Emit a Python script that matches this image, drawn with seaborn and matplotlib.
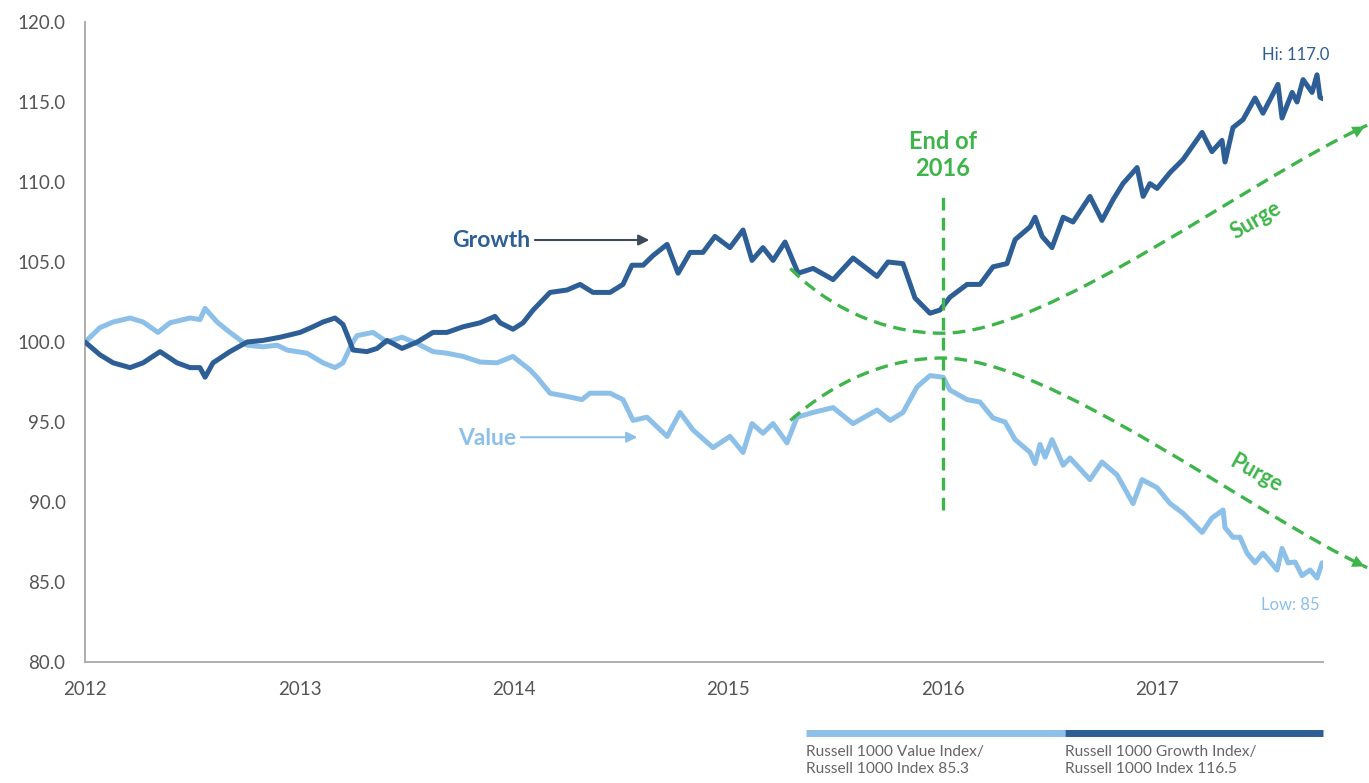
import pandas as pd
import seaborn as sns
import matplotlib.pyplot as plt
from matplotlib.path import Path
from matplotlib.patches import PathPatch
from matplotlib.lines import Line2D

# Growth / Russell 1000 ratio
growth_years = [
    2012.000, 2012.070, 2012.131, 2012.210, 2012.271, 2012.350, 2012.429, 2012.490,
    2012.536, 2012.560, 2012.597, 2012.676, 2012.756, 2012.830, 2012.910, 2013.003,
    2013.063, 2013.110, 2013.166, 2013.203, 2013.227, 2013.250, 2013.315, 2013.362,
    2013.409, 2013.479, 2013.549, 2013.623, 2013.688, 2013.763, 2013.842, 2013.912,
    2013.936, 2013.996, 2014.043, 2014.090, 2014.169, 2014.248, 2014.309, 2014.369,
    2014.449, 2014.509, 2014.551, 2014.603, 2014.649, 2014.715, 2014.766, 2014.822,
    2014.882, 2014.938, 2015.008, 2015.069, 2015.111, 2015.162, 2015.209, 2015.265,
    2015.326, 2015.396, 2015.489, 2015.582, 2015.694, 2015.745, 2015.815, 2015.871,
    2015.941, 2015.988, 2016.034, 2016.114, 2016.174, 2016.235, 2016.300, 2016.338,
    2016.408, 2016.431, 2016.464, 2016.510, 2016.562, 2016.608, 2016.687, 2016.743,
    2016.795, 2016.841, 2016.907, 2016.935, 2016.967, 2017.000, 2017.061, 2017.121,
    2017.210, 2017.256, 2017.303, 2017.317, 2017.354, 2017.401, 2017.457, 2017.494,
    2017.564, 2017.583, 2017.630, 2017.653, 2017.681, 2017.723, 2017.746, 2017.760,
    2017.774,
]
growth_ratio = [
    100.0, 99.2, 98.7, 98.4, 98.7, 99.4, 98.7, 98.4,
    98.4, 97.8, 98.7, 99.4, 100.0, 100.1, 100.3, 100.6,
    100.95, 101.25, 101.5, 101.1, 100.3, 99.5, 99.4, 99.6,
    100.1, 99.6, 100.0, 100.6, 100.6, 100.95, 101.2, 101.6,
    101.2, 100.8, 101.2, 102.0, 103.1, 103.25, 103.6, 103.1,
    103.1, 103.6, 104.8, 104.8, 105.4, 106.1, 104.3, 105.6,
    105.6, 106.6, 105.9, 107.0, 105.1, 105.9, 105.1, 106.25,
    104.3, 104.6, 103.9, 105.25, 104.1, 105.0, 104.9, 102.75,
    101.8, 102.0, 102.8, 103.6, 103.6, 104.7, 104.9, 106.4,
    107.2, 107.8, 106.6, 105.9, 107.8, 107.5, 109.1, 107.6,
    108.9, 109.9, 110.9, 109.1, 109.9, 109.6, 110.6, 111.4,
    113.1, 111.9, 112.6, 111.25, 113.4, 113.9, 115.25, 114.3,
    116.1, 114.0, 115.6, 115.0, 116.4, 115.6, 116.7, 115.3,
    115.2,
]

# Value / Russell 1000 ratio
value_years = [
    2012.000, 2012.070, 2012.131, 2012.210, 2012.271, 2012.340, 2012.396, 2012.490,
    2012.536, 2012.560, 2012.616, 2012.676, 2012.756, 2012.830, 2012.896, 2012.942,
    2013.035, 2013.110, 2013.166, 2013.203, 2013.245, 2013.269, 2013.343, 2013.409,
    2013.479, 2013.549, 2013.623, 2013.688, 2013.763, 2013.842, 2013.922, 2013.996,
    2014.076, 2014.108, 2014.169, 2014.248, 2014.318, 2014.355, 2014.449, 2014.509,
    2014.556, 2014.621, 2014.715, 2014.775, 2014.836, 2014.929, 2015.008, 2015.069,
    2015.111, 2015.162, 2015.209, 2015.274, 2015.321, 2015.396, 2015.489, 2015.582,
    2015.694, 2015.755, 2015.815, 2015.881, 2015.941, 2016.002, 2016.034, 2016.114,
    2016.174, 2016.235, 2016.291, 2016.338, 2016.408, 2016.431, 2016.454, 2016.478,
    2016.510, 2016.562, 2016.594, 2016.687, 2016.743, 2016.813, 2016.888, 2016.930,
    2017.000, 2017.061, 2017.121, 2017.210, 2017.256, 2017.308, 2017.317, 2017.354,
    2017.387, 2017.420, 2017.457, 2017.494, 2017.560, 2017.583, 2017.611, 2017.644,
    2017.676, 2017.714, 2017.746, 2017.770,
]
value_ratio = [
    100.0, 100.9, 101.25, 101.5, 101.25, 100.6, 101.2, 101.5,
    101.4, 102.1, 101.25, 100.6, 99.8, 99.7, 99.8, 99.5,
    99.3, 98.7, 98.4, 98.7, 99.9, 100.4, 100.6, 100.0,
    100.3, 99.9, 99.4, 99.3, 99.1, 98.75, 98.7, 99.1,
    98.25, 97.8, 96.8, 96.6, 96.4, 96.8, 96.8, 96.4,
    95.1, 95.3, 94.1, 95.6, 94.5, 93.4, 94.1, 93.1,
    94.9, 94.3, 94.9, 93.7, 95.3, 95.6, 95.9, 94.9,
    95.75, 95.1, 95.6, 97.2, 97.9, 97.8, 97.0, 96.4,
    96.25, 95.25, 95.0, 93.9, 93.1, 92.4, 93.6, 92.8,
    93.9, 92.3, 92.75, 91.4, 92.5, 91.7, 89.9, 91.4,
    90.9, 89.9, 89.3, 88.1, 89.0, 89.5, 88.4, 87.8,
    87.8, 86.8, 86.2, 86.8, 85.75, 87.1, 86.2, 86.25,
    85.4, 85.75, 85.25, 86.2,
]

year_ticks = [2012, 2013, 2014, 2015, 2016, 2017]
ratio_ticks = [80, 85, 90, 95, 100, 105, 110, 115, 120]

growth_color = "#2d5f96"
value_color = "#8cc0e8"
green = "#3db54a"
axis_gray = "#a8a8a8"
text_gray = "#555555"

sns.set_style("white")
plt.rcParams["font.family"] = ["Lato", "DejaVu Sans"]

df_growth = pd.DataFrame({"year": growth_years, "ratio": growth_ratio})
df_value = pd.DataFrame({"year": value_years, "ratio": value_ratio})

fig = plt.figure(figsize=(13.69, 7.83), dpi=100)
ax = fig.add_axes([0.0621, 0.1545, 0.9043, 0.8174])

sns.lineplot(data=df_value, x="year", y="ratio", ax=ax, color=value_color,
             linewidth=3.6, sort=False, zorder=3)
sns.lineplot(data=df_growth, x="year", y="ratio", ax=ax, color=growth_color,
             linewidth=3.6, sort=False, zorder=4)

ax.set_xlim(2012, 2017.774)
ax.set_ylim(80, 120)
ax.set_xticks(year_ticks)
ax.set_xticklabels([str(y) for y in year_ticks])
ax.set_yticks(ratio_ticks)
ax.set_yticklabels([f"{v:.1f}" for v in ratio_ticks])
ax.set_xlabel("")
ax.set_ylabel("")

sns.despine(ax=ax)
for side in ["left", "bottom"]:
    ax.spines[side].set_color(axis_gray)
    ax.spines[side].set_linewidth(1.3)
ax.tick_params(axis="both", colors=axis_gray, length=5, width=1.3,
               labelcolor=text_gray, labelsize=13.5)
ax.tick_params(axis="y", pad=9)
ax.tick_params(axis="x", pad=9)

# green scenario curves (annotation only)
upper = Path(
    [(2015.29, 104.6), (2015.45, 102.4), (2015.7, 100.55), (2016.0, 100.55),
     (2016.5, 100.55), (2017.42, 110.1), (2017.98, 113.55)],
    [Path.MOVETO, Path.CURVE4, Path.CURVE4, Path.CURVE4,
     Path.CURVE4, Path.CURVE4, Path.CURVE4],
)
lower = Path(
    [(2015.29, 95.1), (2015.5, 97.6), (2015.75, 99.0), (2016.0, 99.0),
     (2016.5, 99.0), (2017.45, 89.2), (2017.98, 85.9)],
    [Path.MOVETO, Path.CURVE4, Path.CURVE4, Path.CURVE4,
     Path.CURVE4, Path.CURVE4, Path.CURVE4],
)
for p in [upper, lower]:
    ax.add_patch(PathPatch(p, facecolor="none", edgecolor=green, lw=2.4,
                           linestyle=(0, (3.8, 2.2)), clip_on=False, zorder=5))

ax.annotate("", xy=(2017.98, 113.55), xytext=(2017.90, 112.98),
            arrowprops=dict(arrowstyle="-|>", color=green, lw=0,
                            mutation_scale=22), annotation_clip=False)
ax.annotate("", xy=(2017.98, 85.9), xytext=(2017.90, 86.4),
            arrowprops=dict(arrowstyle="-|>", color=green, lw=0,
                            mutation_scale=22), annotation_clip=False)

ax.plot([2016, 2016], [89.5, 109.5], color=green, lw=2.4,
        linestyle=(0, (3.8, 2.2)), zorder=5)
ax.text(2016, 111.7, "End of\n2016", color=green, fontsize=17,
        fontweight="bold", ha="center", va="center", linespacing=1.2)

ax.text(2017.46, 107.6, "Surge", color=green, fontsize=15.5, fontweight="bold",
        ha="center", va="center", rotation=30)
ax.text(2017.46, 91.8, "Purge", color=green, fontsize=15.5, fontweight="bold",
        ha="center", va="center", rotation=-29)

# series labels
ax.text(2014.076, 106.375, "Growth", color=growth_color, fontsize=16.5,
        fontweight="bold", ha="right", va="center")
ax.annotate("", xy=(2014.645, 106.375), xytext=(2014.085, 106.375),
            arrowprops=dict(arrowstyle="-|>", color="#3d4a5c", lw=1.5,
                            mutation_scale=16))
ax.text(2014.01, 94.0, "Value", color=value_color, fontsize=16.5,
        fontweight="bold", ha="right", va="center")
ax.annotate("", xy=(2014.589, 94.05), xytext=(2014.02, 94.05),
            arrowprops=dict(arrowstyle="-|>", color=value_color, lw=1.5,
                            mutation_scale=16))

ax.text(2017.648, 117.94, "Hi: 117.0", color=growth_color, fontsize=12,
        ha="center", va="center")
ax.text(2017.62, 83.56, "Low: 85", color=value_color, fontsize=12,
        ha="center", va="center")

# legend bars at the bottom
fig.add_artist(Line2D([0.5888, 0.7779], [0.0639, 0.0639], color=value_color,
                      lw=5, solid_capstyle="butt"))
fig.add_artist(Line2D([0.7779, 0.9664], [0.0639, 0.0639], color=growth_color,
                      lw=5, solid_capstyle="butt"))
fig.text(0.5888, 0.048, "Russell 1000 Value Index/\nRussell 1000 Index 85.3",
         color="#666666", fontsize=11.2, ha="left", va="top", linespacing=1.25)
fig.text(0.7779, 0.048, "Russell 1000 Growth Index/\nRussell 1000 Index 116.5",
         color="#666666", fontsize=11.2, ha="left", va="top", linespacing=1.25)

fig.savefig("out.png", dpi=100)
